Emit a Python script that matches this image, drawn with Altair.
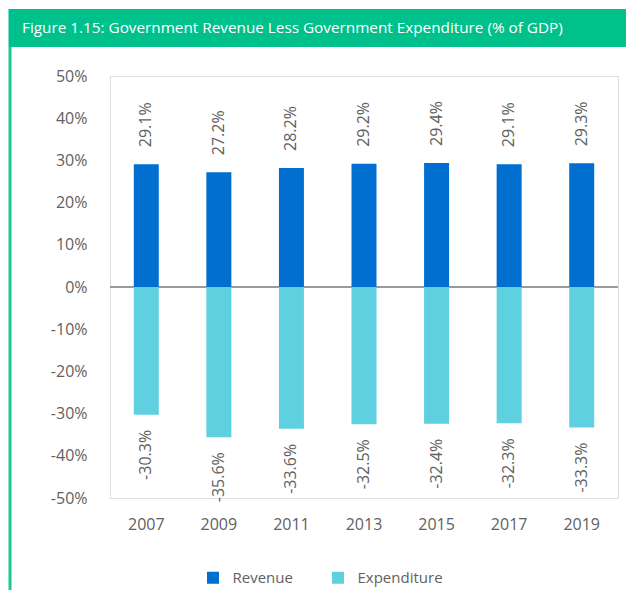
import altair as alt
import pandas as pd

years = ["2007", "2009", "2011", "2013", "2015", "2017", "2019"]
revenue = [29.1, 27.2, 28.2, 29.2, 29.4, 29.1, 29.3]
expenditure = [-30.3, -35.6, -33.6, -32.5, -32.4, -32.3, -33.3]
series_names = ["Revenue", "Expenditure"]
series_colors = ["#006fcf", "#5fd0e0"]
y_ticks = [-50, -40, -30, -20, -10, 0, 10, 20, 30, 40, 50]
title_text = "Figure 1.15: Government Revenue Less Government Expenditure (% of GDP)"

rows = []
for y, r, e in zip(years, revenue, expenditure):
    rows.append({"year": y, "series": "Revenue", "value": r, "label": f"{r:.1f}%"})
    rows.append({"year": y, "series": "Expenditure", "value": e, "label": f"{e:.1f}%"})
df = pd.DataFrame(rows)

FONT = "Open Sans"
GRAY = "#616161"
GREEN = "#00c08b"
W, H = 508, 422

base = alt.Chart(df)

x_enc = alt.X("year:N", sort=years, title=None,
              scale=alt.Scale(paddingInner=0, paddingOuter=0),
              axis=alt.Axis(domain=False, ticks=False, tickSize=0, labelAngle=0,
                            labelPadding=18, labelFontSize=16, labelColor=GRAY,
                            labelFont=FONT, grid=False))
y_enc = alt.Y("value:Q", title=None,
              scale=alt.Scale(domain=[-50, 50], nice=False, zero=False),
              axis=alt.Axis(values=y_ticks, labelExpr="datum.value + '%'",
                            domain=False, ticks=False, tickSize=0, grid=False,
                            labelPadding=23, labelFontSize=16, labelColor=GRAY,
                            labelFont=FONT))

bars = base.mark_bar(size=25).encode(
    x=x_enc,
    y=y_enc,
    color=alt.Color("series:N",
                    scale=alt.Scale(domain=series_names, range=series_colors),
                    sort=series_names,
                    legend=alt.Legend(title=None, orient="none", legendX=95.5, legendY=494,
                                      direction="horizontal", symbolType="square",
                                      symbolSize=144, symbolStrokeWidth=0,
                                      labelFontSize=15, labelColor=GRAY, labelFont=FONT,
                                      labelOffset=12, columnPadding=37, padding=0)),
)

zero = alt.Chart(alt.Data(values=[{"value": 0}])).mark_rule(color="#9a9a9a", strokeWidth=2).encode(
    y=alt.Y("value:Q")
)

rev_text = base.transform_filter("datum.series == 'Revenue'").mark_text(
    angle=270, align="left", baseline="middle", dx=17, fontSize=16, font=FONT, color=GRAY
).encode(x=alt.X("year:N", sort=years), y="value:Q", text="label:N")

exp_text = base.transform_filter("datum.series == 'Expenditure'").mark_text(
    angle=270, align="right", baseline="middle", dx=-15, fontSize=16, font=FONT, color=GRAY
).encode(x=alt.X("year:N", sort=years), y="value:Q", text="label:N")

one = alt.Data(values=[{"t": title_text}])
header = alt.Chart(one).mark_rect(color=GREEN).encode(
    x=alt.value(-101.5), x2=alt.value(516), y=alt.value(-67), y2=alt.value(-29)
)
side = alt.Chart(one).mark_rect(color="#19c893").encode(
    x=alt.value(-101.5), x2=alt.value(-98.5), y=alt.value(-29), y2=alt.value(514)
)
header_text = alt.Chart(one).mark_text(
    align="left", baseline="middle", color="white", fontSize=15.3, font=FONT
).encode(x=alt.value(-88), y=alt.value(-48), text="t:N")

chart = alt.layer(header, side, header_text, zero, bars, rev_text, exp_text).properties(
    width=W, height=H, padding={"top": 1, "left": 0, "right": 0, "bottom": 0}
).configure_view(stroke=None, strokeWidth=0).configure(background="white")

chart.save("out.html", embed_options={"renderer": "svg", "actions": False})
